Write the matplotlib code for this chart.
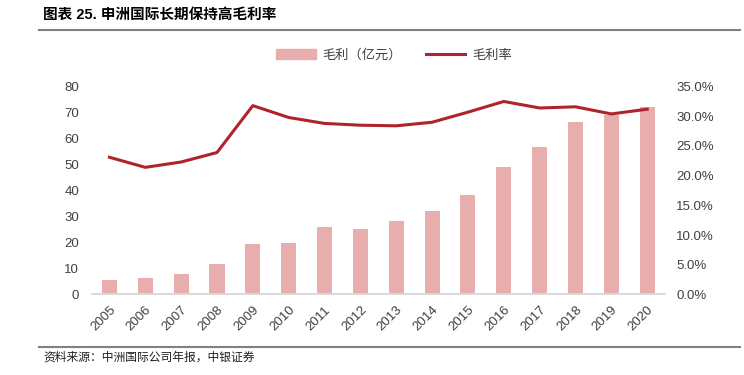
import matplotlib
matplotlib.use("Agg")
import matplotlib.pyplot as plt
import numpy as np
from matplotlib.lines import Line2D
from matplotlib.ticker import FuncFormatter

plt.rcParams['font.family'] = ['Liberation Sans', 'Noto Sans CJK SC', 'DejaVu Sans']

# data
years = ['2005', '2006', '2007', '2008', '2009', '2010', '2011', '2012',
         '2013', '2014', '2015', '2016', '2017', '2018', '2019', '2020']
gross_profit = [5.5, 6.3, 7.8, 11.6, 19.3, 19.8, 25.9, 25.2,
                28.2, 32.1, 38.4, 49.2, 56.7, 66.2, 69.2, 72.0]   # 亿元
gross_margin = [23.1, 21.4, 22.3, 23.9, 31.8, 29.8, 28.8, 28.5,
                28.4, 29.0, 30.7, 32.5, 31.4, 31.6, 30.4, 31.2]   # %

bar_color = '#E8ADAD'
line_color = '#B0232A'
text_color = '#404040'

fig = plt.figure(figsize=(7.44, 3.75), dpi=100)
ax = fig.add_axes([0.123, 0.215, 0.771, 0.554])
ax2 = ax.twinx()

x = np.arange(len(years))
ax.bar(x, gross_profit, width=0.42, color=bar_color, zorder=2)
ax2.plot(x, gross_margin, color=line_color, lw=2.2, zorder=3)

ax.set_xlim(-0.5, len(years) - 0.5)
ax.set_ylim(0, 80)
ax.set_yticks(np.arange(0, 81, 10))
ax2.set_ylim(0, 35)
ax2.set_yticks(np.arange(0, 36, 5))
ax2.yaxis.set_major_formatter(FuncFormatter(lambda v, p: f'{v:.1f}%'))

ax.set_xticks(x)
ax.set_xticklabels(years, rotation=45, ha='right', rotation_mode='anchor')

for a in (ax, ax2):
    for s in ['top', 'left', 'right']:
        a.spines[s].set_visible(False)
    a.spines['bottom'].set_color('#D9D9D9')
    a.spines['bottom'].set_linewidth(1.2)
    a.tick_params(length=0, labelsize=9.5, labelcolor=text_color)
ax.tick_params(axis='x', pad=7)
ax.tick_params(axis='y', pad=9)
ax2.tick_params(axis='y', pad=8)

# legend
handles = [plt.Rectangle((0, 0), 1, 1, color=bar_color),
           Line2D([0], [0], color=line_color, lw=2.2)]
fig.legend(handles, ['毛利（亿元）', '毛利率'], ncol=2, frameon=False,
           loc='center', bbox_to_anchor=(394 / 744, 1 - 55 / 375),
           prop={'family': ['Noto Sans CJK SC'], 'size': 9.5},
           labelcolor=text_color, handlelength=3.0, handleheight=0.7,
           columnspacing=1.8, handletextpad=0.5)

# title, rules and source
fig.text(43 / 744, 1 - 15 / 375, '图表 25. 申洲国际长期保持高毛利率',
         fontsize=10.5, fontweight='bold', va='center', ha='left',
         family=['Liberation Sans', 'Noto Sans CJK SC'])
fig.add_artist(Line2D([39 / 744, 740 / 744], [1 - 30 / 375, 1 - 30 / 375],
                      color='#808080', lw=1.5))
fig.add_artist(Line2D([39 / 744, 740 / 744], [1 - 346.5 / 375, 1 - 346.5 / 375],
                      color='#808080', lw=1.5))
fig.text(43 / 744, 1 - 357 / 375, '资料来源：中洲国际公司年报，中银证券',
         fontsize=8.5, style='italic', va='center', ha='left',
         family=['Noto Sans CJK SC'], color='#202020')

fig.savefig('out.png', dpi=100)
